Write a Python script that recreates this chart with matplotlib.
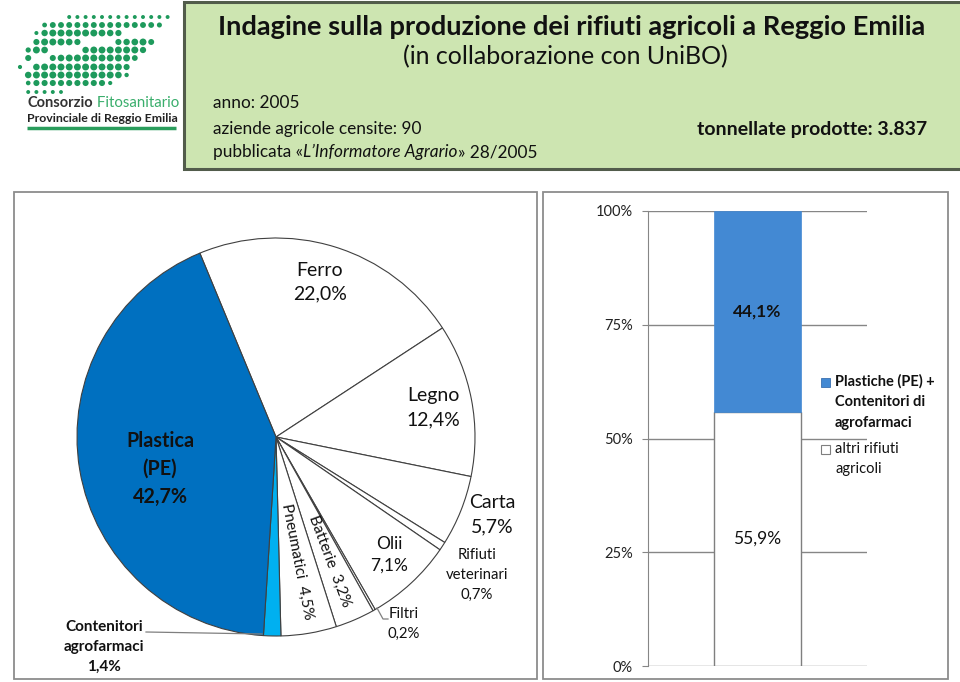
import matplotlib
matplotlib.use('Agg')
import matplotlib.pyplot as plt
from matplotlib.patches import Rectangle
import numpy as np

plt.rcParams['font.family'] = ['Lato', 'DejaVu Sans']

# ---------------- data ----------------
pie_names = ['Ferro', 'Legno', 'Carta', 'Rifiuti\nveterinari', 'Olii', 'Filtri',
             'Batterie', 'Pneumatici', 'Contenitori\nagrofarmaci', 'Plastica\n(PE)']
pie_values = [22.0, 12.4, 5.7, 0.7, 7.1, 0.2, 3.2, 4.5, 1.4, 42.7]
pie_colors = ['white', 'white', 'white', 'white', 'white', 'white', 'white',
              'white', '#00B0F0', '#0070C0']

bar_category = ['2005']
bar_series = ['altri rifiuti\nagricoli', 'Plastiche (PE) +\nContenitori di\nagrofarmaci']
bar_other = [55.9]
bar_plastic = [44.1]
y_ticks = [0, 25, 50, 75, 100]
y_tick_labels = ['0%', '25%', '50%', '75%', '100%']

title = 'Indagine sulla produzione dei rifiuti agricoli a Reggio Emilia'
subtitle = '(in collaborazione con UniBO)'


def pct(v):
    return f'{v:.1f}'.replace('.', ',') + '%'


W, H = 960, 682
fig = plt.figure(figsize=(9.6, 6.82), dpi=100)


def fr(x, y, w, h):
    return [x / W, 1 - (y + h) / H, w / W, h / H]


# ---------------- background / decorations ----------------
bg = fig.add_axes([0, 0, 1, 1], zorder=0)
bg.set_xlim(0, W)
bg.set_ylim(H, 0)
bg.axis('off')

bg.add_patch(Rectangle((184, 2), 790, 167, facecolor='#cde5b1',
                       edgecolor='#525c4b', lw=2.2))
bg.add_patch(Rectangle((14, 192), 523, 487, facecolor='white',
                       edgecolor='#8c8c8c', lw=1.3))
bg.add_patch(Rectangle((543, 192), 405, 487, facecolor='white',
                       edgecolor='#8c8c8c', lw=1.3))

# logo: dotted leaf with a white curved slash
green = '#1e9a5c'
row_y = [17, 25, 33, 42, 50, 58, 67, 75, 83, 92]
row_left = [67, 43, 37, 30, 25, 22, 20, 20, 27, 27]
row_right = [167, 163, 160, 157, 150, 140, 133, 127, 110, 60]
slash_x = [10, 18, 28, 40, 65, 93, 165, 180]
slash_y = [84, 76, 67, 58, 50, 42, 30, 28]

xs, ys, ss = [], [], []
for yy, xl, xr in zip(row_y, row_left, row_right):
    for xx in np.arange(20, 170, 8.2):
        if xx < xl - 1 or xx > xr + 1:
            continue
        ysl = np.interp(xx, slash_x, slash_y)
        dsl = abs(yy - ysl)
        if dsl < 4.0:
            continue
        depth = min(xx - xl + 4, xr - xx + 4, (yy - 13) * 0.8, (96 - yy) * 0.8) / 14
        depth = min(max(depth, 0.2), 1.0)
        near = min(dsl / 8, 1.0)
        s = 3 + 22 * depth * (0.45 + 0.55 * near)
        xs.append(xx); ys.append(yy); ss.append(s)
bg.scatter(xs, ys, s=ss, color=green, lw=0)
t0 = bg.text(27, 103, 'Consorzio', fontsize=10.5, fontweight='bold',
             color='#333333', va='center', ha='left')
bg.annotate(' Fitosanitario', xycoords=t0, xy=(1, 0.5), fontsize=10.8,
            color='#3aae6c', va='center', ha='left')
bg.text(27, 118, 'Provinciale di Reggio Emilia', fontsize=8.9, fontweight='bold',
        color='#222222', va='center', ha='left')
bg.plot([27, 176], [128, 128], color='#2a9d5c', lw=2.5, solid_capstyle='butt')

# header texts
bg.text(572, 27, title, fontsize=19.6, fontweight='bold', ha='center',
        va='center', color='#111111')
bg.text(565, 57, subtitle, fontsize=18, ha='center', va='center', color='#111111')
bg.text(213, 103, 'anno: 2005', fontsize=12.4, ha='left', va='center',
        color='#111111')
bg.text(213, 129, 'aziende agricole censite: 90', fontsize=12.4, ha='left',
        va='center', color='#111111')
t = bg.text(213, 152, 'pubblicata «', fontsize=12.4, ha='left', va='center',
            color='#111111')
t2 = bg.annotate('L’Informatore Agrario', xycoords=t, xy=(1, 0.5), va='center',
                 ha='left', fontsize=12.4, fontstyle='italic', color='#111111')
bg.annotate('» 28/2005', xycoords=t2, xy=(1, 0.5), va='center', ha='left',
            fontsize=12.4, color='#111111')
bg.text(927, 129, 'tonnellate prodotte: 3.837', fontsize=14, fontweight='bold',
        ha='right', va='center', color='#111111')

# ---------------- pie ----------------
cx, cy, r = 276, 437, 199
pax = fig.add_axes(fr(cx - r * 1.01, cy - r * 1.01, 2 * r * 1.01, 2 * r * 1.01),
                   zorder=1)
pax.pie(pie_values, colors=pie_colors, startangle=112.5, counterclock=False,
        wedgeprops=dict(edgecolor='#404040', linewidth=0.8))
pax.set_xlim(-1.01, 1.01)
pax.set_ylim(-1.01, 1.01)
pax.set_aspect('equal')
pax.axis('off')

# ---------------- stacked bar ----------------
bax = fig.add_axes(fr(648, 211, 219, 455), zorder=1)
b1 = bax.bar(bar_category, bar_other, width=0.4, color='white',
             edgecolor='#7f7f7f', lw=1.0, zorder=3)
b2 = bax.bar(bar_category, bar_plastic, bottom=bar_other, width=0.4,
             color='#4389d3', edgecolor='#4389d3', lw=0.5, zorder=3)
bax.set_xlim(-0.5, 0.5)
bax.set_ylim(0, 100)
bax.set_yticks(y_ticks)
bax.set_yticklabels(y_tick_labels)
bax.yaxis.grid(True, color='#868686', lw=1.0)
bax.set_axisbelow(True)
for s in ['top', 'right', 'bottom']:
    bax.spines[s].set_visible(False)
bax.spines['left'].set_color('#868686')
bax.tick_params(axis='y', direction='out', length=4.5, color='#868686',
                labelsize=10.5, labelcolor='#222222', pad=6.5)
bax.tick_params(axis='x', length=0, labelbottom=False)
bax.bar_label(b1, labels=[pct(v) for v in bar_other], label_type='center',
              fontsize=12.5, color='#111111')
bax.bar_label(b2, labels=[pct(v) for v in bar_plastic], label_type='center',
              fontsize=12.5, fontweight='bold', color='#111111')

# ---------------- overlay labels ----------------
ov = fig.add_axes([0, 0, 1, 1], zorder=2)
ov.set_xlim(0, W)
ov.set_ylim(H, 0)
ov.axis('off')
ov.patch.set_alpha(0)

label_layout = {
    'Ferro': dict(xy=(320, 282), size=14, ls=1.5),
    'Legno': dict(xy=(433, 408), size=14, ls=1.5),
    'Carta': dict(xy=(492, 515), size=14, ls=1.5),
    'Rifiuti\nveterinari': dict(xy=(477, 575), size=10.7, ls=1.55),
    'Olii': dict(xy=(389, 555), size=12.5, ls=1.45),
    'Filtri': dict(xy=(404, 624), size=10.7, ls=1.5),
    'Batterie': dict(xy=(330, 561), size=11.2, rot=-69.5, sep='  '),
    'Pneumatici': dict(xy=(297, 562), size=11.2, rot=-79, sep='  '),
    'Contenitori\nagrofarmaci': dict(xy=(104, 647), size=11, bold=True, ls=1.55),
    'Plastica\n(PE)': dict(xy=(160, 469), size=14.2, bold=True, ls=1.5),
}
for name, val in zip(pie_names, pie_values):
    L = label_layout[name]
    sep = L.get('sep', '\n')
    ov.text(L['xy'][0], L['xy'][1], name + sep + pct(val), fontsize=L['size'],
            ha='center', va='center', rotation=L.get('rot', 0),
            rotation_mode='anchor', linespacing=L.get('ls', 1.2),
            fontweight='bold' if L.get('bold') else 'normal', color='#111111')

# leader lines
ov.plot([146, 262], [632, 634], color='#7f7f7f', lw=0.9)
ov.plot([377, 383, 388], [608, 619, 619], color='#7f7f7f', lw=0.9)

# legend
ov.add_patch(Rectangle((821, 378), 8.5, 8.5, facecolor='#4389d3',
                       edgecolor='#3a70b0', lw=0.6))
ov.text(835, 402, bar_series[1], fontsize=10.5, fontweight='bold', ha='left',
        va='center', linespacing=1.6, color='#111111')
ov.add_patch(Rectangle((821, 445), 8.5, 8.5, facecolor='white',
                       edgecolor='#7f7f7f', lw=0.8))
ov.text(835, 459, bar_series[0], fontsize=10.5, ha='left', va='center',
        linespacing=1.6, color='#111111')

fig.savefig('out.png', dpi=100)
